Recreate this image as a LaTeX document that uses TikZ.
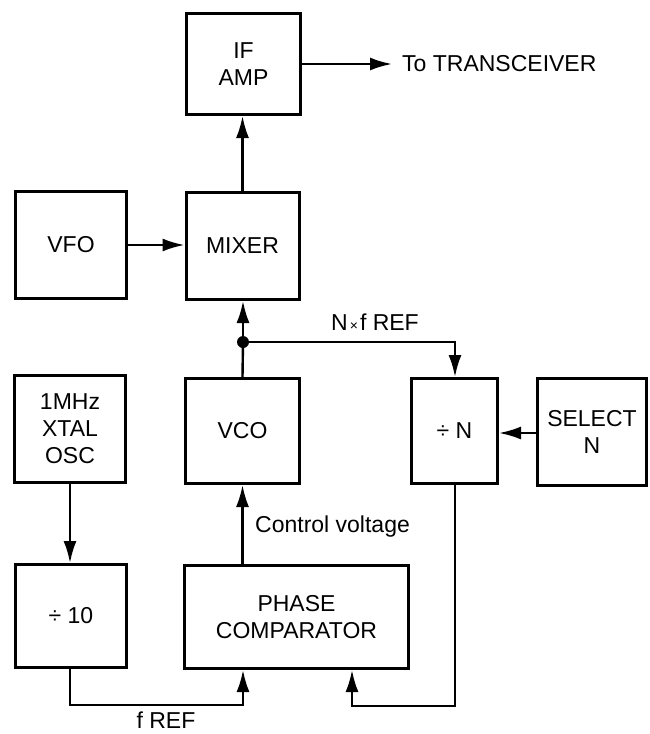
\documentclass[tikz,border=0pt]{standalone}
\usepackage{fontspec}
\setmainfont{Liberation Sans}
\usetikzlibrary{arrows.meta}
\begin{document}
\begin{tikzpicture}[x=1pt,y=-1pt,
  blk/.style={draw, line width=3pt, rectangle, align=center, inner sep=0pt,
    font=\fontsize{23}{27}\selectfont},
  conn/.style={line width=2.4pt},
  arr/.style={conn, -{Latex[length=22pt,width=13pt]}},
  lbl/.style={font=\fontsize{23}{27}\selectfont, inner sep=0pt},
  dot/.style={circle, fill, inner sep=0pt, minimum size=12pt}]
\useasboundingbox (0,0) rectangle (650,734);
\fill[white] (0,0) rectangle (650,734);

\node[blk, minimum width=114pt, minimum height=101pt] (ifamp) at (243.5,64) {IF\\AMP};
\node[blk, minimum width=111pt, minimum height=107pt] (vfo) at (71,245) {VFO};
\node[blk, minimum width=113pt, minimum height=107pt] (mixer) at (242.5,246) {MIXER};
\node[blk, minimum width=111pt, minimum height=107pt] (xtal) at (70,429) {1MHz\\XTAL\\OSC};
\node[blk, minimum width=114pt, minimum height=105pt] (vco) at (242.5,431) {VCO};
\node[blk, minimum width=86pt, minimum height=105pt] (divn) at (454.5,431) {÷ N};
\node[blk, minimum width=109pt, minimum height=107pt] (sel) at (592,432) {SELECT\\N};
\node[blk, minimum width=111pt, minimum height=103pt] (div10) at (71,616) {÷ 10};
\node[blk, minimum width=224pt, minimum height=103pt] (pc) at (296.5,617) {PHASE\\COMPARATOR};

% output
\coordinate (out) at (392,64);
\draw[arr] (ifamp.east) -- (out);
\node[lbl, anchor=west] (tt) at (402,64) {To TRANSCEIVER};

% VFO -> mixer
\draw[arr] (vfo.east) -- (vfo.east -| mixer.west);
% mixer -> IF amp
\draw[arr] (mixer.north) -- (mixer.north |- ifamp.south);

% VCO -> mixer with junction
\node[dot] (j) at (243,342) {};
\draw[conn] (vco.north) -- (j.center);
\draw[arr] (j.center) -- (j.center |- mixer.south);
\coordinate (jr) at (455,342);
\draw[arr] (j.center) -- (jr) -- (jr |- divn.north);
\node[lbl] (nref) at (375,322) {N\kern2pt{\fontsize{14}{14}\selectfont ×}\kern2pt f REF};

% select -> divN
\draw[arr] (sel.west |- 0,433) -- (divn.east |- 0,433);

% xtal -> div10
\draw[arr] (xtal.south) -- (xtal.south |- div10.north);

% PC -> VCO
\draw[arr] (pc.north -| vco.south) -- (vco.south);
\node[lbl, anchor=west] (cv) at (255,527) {Control voltage};

% div10 -> PC
\coordinate (a1) at (70,705);
\coordinate (a2) at (243,705);
\draw[arr] (div10.south -| a1) -- (a1) -- (a2) -- (a2 |- pc.south);
\node[lbl, anchor=base] (fref) at (166,728) {f REF};

% divN -> PC
\coordinate (b1) at (455,706);
\coordinate (b2) at (352,706);
\draw[arr] (divn.south -| b1) -- (b1) -- (b2) -- (b2 |- pc.south);
\end{tikzpicture}
\end{document}
